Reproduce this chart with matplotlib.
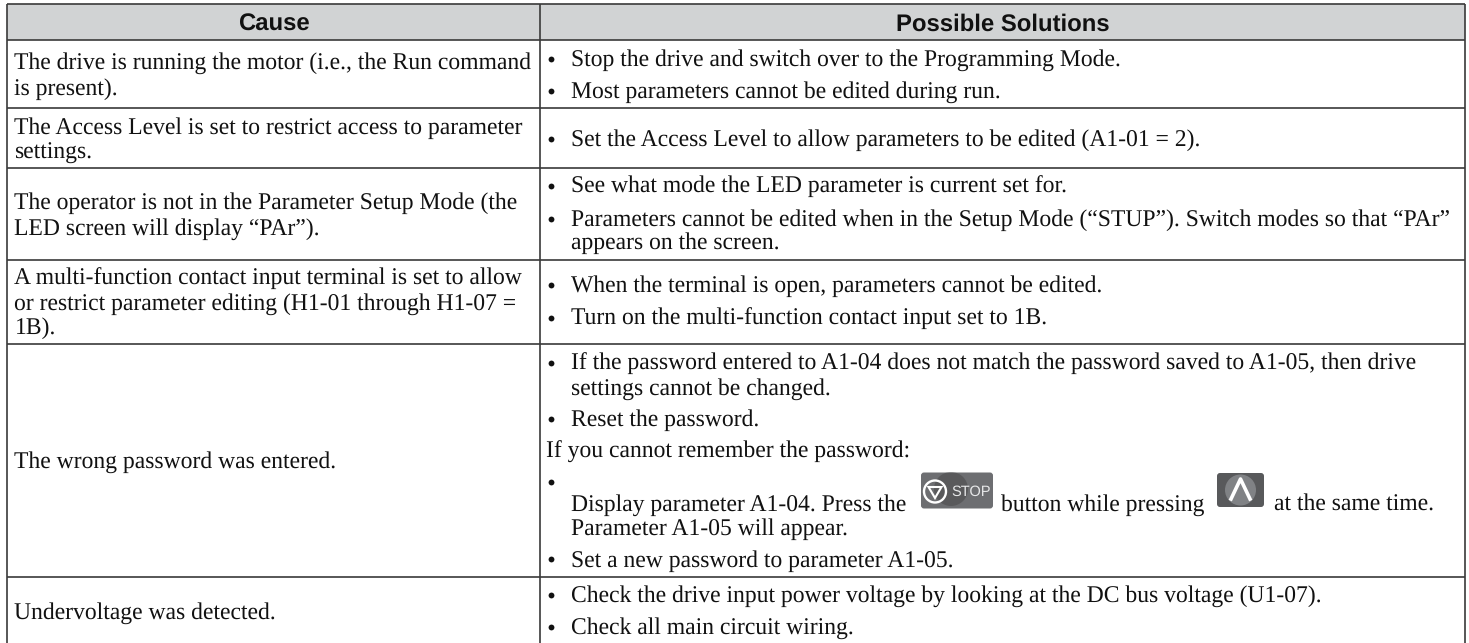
import matplotlib
matplotlib.use('Agg')
import matplotlib.pyplot as plt
from matplotlib.patches import Rectangle, FancyBboxPatch, Circle, Polygon

plt.rcParams['text.hinting'] = 'no_hinting'
plt.rcParams['text.hinting_factor'] = 8

headers = ['Cause', 'Possible Solutions']

cause_lines = [
    'The drive is running the motor (i.e., the Run command',
    'is present).',
    'The Access Level is set to restrict access to parameter',
    'settings.',
    'The operator is not in the Parameter Setup Mode (the',
    'LED screen will display “PAr”).',
    'A multi-function contact input terminal is set to allow',
    'or restrict parameter editing (H1-01 through H1-07 =',
    '1B).',
    'The wrong password was entered.',
    'Undervoltage was detected.',
]

solution_lines = [
    'Stop the drive and switch over to the Programming Mode.',
    'Most parameters cannot be edited during run.',
    'Set the Access Level to allow parameters to be edited (A1-01 = 2).',
    'See what mode the LED parameter is current set for.',
    'Parameters cannot be edited when in the Setup Mode (“STUP”). Switch modes so that “PAr”',
    'appears on the screen.',
    'When the terminal is open, parameters cannot be edited.',
    'Turn on the multi-function contact input set to 1B.',
    'If the password entered to A1-04 does not match the password saved to A1-05, then drive',
    'settings cannot be changed.',
    'Reset the password.',
    'Set a new password to parameter A1-05.',
    'Check the drive input power voltage by looking at the DC bus voltage (U1-07).',
    'Check all main circuit wiring.',
]

press_parts = ['Display parameter A1-04. Press the', 'button while pressing', 'at the same time.']
not_remember = 'If you cannot remember the password:'
appear_line = 'Parameter A1-05 will appear.'
stop_label = 'STOP'

# layout in image pixels
W, H = 1469, 643
left, mid, right = 7.5, 540.5, 1465.5
top, head_bottom = 4, 40
row_lines = [108, 167.5, 260, 344, 576.5]

cause_y = [69, 95, 134, 159, 209, 235, 285, 310, 334, 468, 619]
solution_y = [65.5, 98, 145.5, 193, 225.5, 249, 292, 324.5, 370, 395, 426, 566.5, 601.5, 633.5]
bullet_y = [58.5, 90.5, 138.5, 186, 218.5, 285, 317.5, 362.5, 418.5, 481.5, 559, 594.5, 626.5]

text_col = '#111111'
line_col = '#3a3a3a'
font_size = 17.0

fig = plt.figure(figsize=(W / 100, H / 100), dpi=100)
ax = fig.add_axes([0, 0, 1, 1])
ax.set_xlim(0, W)
ax.set_ylim(H, 0)
ax.axis('off')

ax.add_patch(Rectangle((left, top), right - left, head_bottom - top, fc='#d1d3d4', ec='none'))

for y in [top, head_bottom] + row_lines:
    ax.plot([left, right], [y, y], color=line_col, lw=1.2, solid_capstyle='butt')
for x in [left, mid, right]:
    ax.plot([x, x], [top, H], color=line_col, lw=1.2, solid_capstyle='butt')

ax.text((left + mid) / 2, 30.5, headers[0], ha='center', va='baseline', family='Liberation Sans',
        weight='bold', fontsize=17.2, color='#111111')
ax.text((mid + right) / 2, 30.5, headers[1], ha='center', va='baseline', family='Liberation Sans',
        weight='bold', fontsize=17.2, color='#111111')


def txt(x, y, s):
    ax.text(x, y, s, ha='left', va='baseline', family='Liberation Serif', fontsize=font_size, color=text_col)


for s, y in zip(cause_lines, cause_y):
    txt(14.5, y, s)

for s, y in zip(solution_lines, solution_y):
    txt(571, y, s)

for y in bullet_y:
    ax.plot(551.5, y, 'o', color=text_col, ms=4.2, mew=0)

txt(546.5, 458, not_remember)
txt(571, 510.5, press_parts[0])
txt(1001, 510.5, press_parts[1])
txt(1274.5, 510.5, press_parts[2])
txt(571, 535, appear_line)

# STOP button
stop_box = FancyBboxPatch((921, 472.5), 72, 36, boxstyle='round,pad=0,rounding_size=3', fc='#6d6e71', ec='none')
ax.add_patch(stop_box)
stop_glow = Circle((951, 489), 17, fc='#59595b', ec='none')
ax.add_patch(stop_glow)
stop_glow.set_clip_path(stop_box)
ax.add_patch(Circle((935, 491.5), 11, fc='none', ec='white', lw=1.7))
ax.add_patch(Polygon([[928.5, 487], [941.5, 487], [935, 498]], closed=True, fc='none', ec='white', lw=1.5))
ax.text(951.5, 491.5, stop_label, ha='left', va='center', family='Liberation Sans', fontsize=10.5, color='#e6e7e8')

# up button
ax.add_patch(FancyBboxPatch((1217, 473), 47, 34, boxstyle='round,pad=0,rounding_size=3', fc='#58595b', ec='none'))
ax.add_patch(Circle((1240.5, 490), 15.5, fc='#808285', ec='none'))
ax.plot([1231, 1240.5, 1250], [499, 479, 499], color='white', lw=2.6)

fig.savefig('out.png', dpi=100, facecolor='white')
